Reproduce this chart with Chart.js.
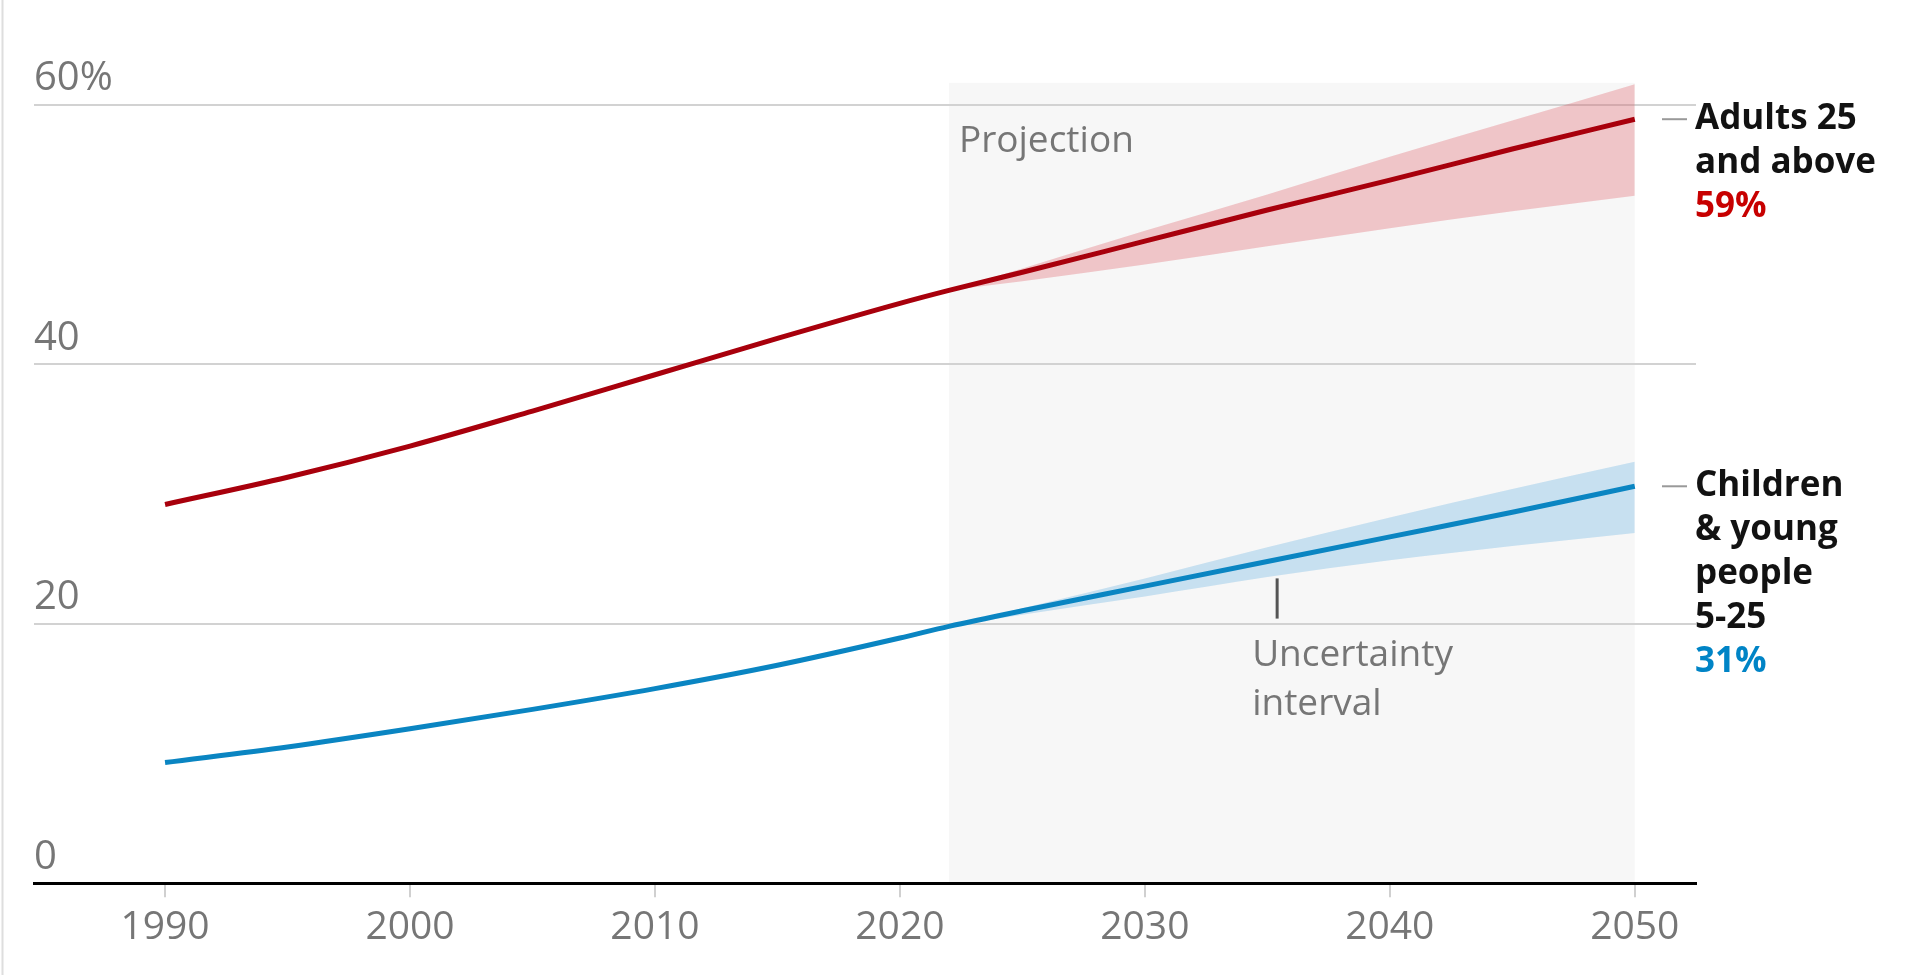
<!DOCTYPE html>
<html>
<head>
<meta charset="utf-8">
<script src="https://cdn.jsdelivr.net/npm/chart.js@4.4.1/dist/chart.umd.min.js"></script>
<style>
  html, body { margin: 0; padding: 0; background: #fff; }
  #wrap { position: relative; width: 1920px; height: 975px; }
</style>
</head>
<body>
<div id="wrap"><canvas id="popChart"></canvas></div>
<script>
// --- DATA ---
const years = [1990, 1995, 2000, 2005, 2010, 2015, 2020, 2022, 2025, 2030, 2035, 2040, 2045, 2050];
const adults = [29.2, 31.3, 33.7, 36.4, 39.2, 42.0, 44.7, 45.7, 47.1, 49.5, 51.9, 54.2, 56.6, 58.9];
const adultsLow = [null, null, null, null, null, null, null, 45.7, 46.4, 47.7, 49.1, 50.5, 51.8, 53.0];
const adultsHigh = [null, null, null, null, null, null, null, 45.7, 47.4, 50.3, 53.1, 56.0, 58.8, 61.6];
const children = [9.3, 10.5, 11.9, 13.4, 15.0, 16.8, 18.9, 19.8, 21.0, 22.9, 24.8, 26.7, 28.6, 30.6];
const childrenLow = [null, null, null, null, null, null, null, 19.8, 20.7, 22.1, 23.6, 24.9, 26.0, 27.0];
const childrenHigh = [null, null, null, null, null, null, null, 19.8, 21.2, 23.5, 25.9, 28.2, 30.4, 32.5];
const xTicks = [1990, 2000, 2010, 2020, 2030, 2040, 2050];
const yTicks = [0, 20, 40, 60];
const projectionStart = 2022;
const projectionEnd = 2050;
const adultsLabel = ['Adults 25', 'and above', '59%'];
const childrenLabel = ['Children', '& young', 'people', '5-25', '31%'];

const RED = '#a8000c';
const BLUE = '#0a85c2';
const GREY = '#767676';
const FONT = '"Open Sans", "Noto Sans", sans-serif';

function pts(arr) {
  return years.map((yr, i) => ({ x: yr, y: arr[i] }));
}

// --- PLUGIN: background shade, annotations and end labels ---
const decorations = {
  id: 'decorations',
  beforeDraw(chart) {
    const { ctx, scales: { x, y } } = chart;
    ctx.save();
    ctx.fillStyle = '#fff';
    ctx.fillRect(0, 0, chart.width, chart.height);
    // left border
    ctx.strokeStyle = '#dedede';
    ctx.lineWidth = 2;
    ctx.beginPath();
    ctx.moveTo(2.5, 0);
    ctx.lineTo(2.5, chart.height);
    ctx.stroke();
    // projection area
    const x0 = x.getPixelForValue(projectionStart);
    const x1 = x.getPixelForValue(projectionEnd);
    const yTop = y.getPixelForValue(61.7);
    const yBot = y.getPixelForValue(0);
    ctx.fillStyle = '#f7f7f7';
    ctx.fillRect(x0, yTop, x1 - x0, yBot - yTop);
    ctx.restore();
  },
  afterDraw(chart) {
    const { ctx, chartArea, scales: { x, y } } = chart;
    ctx.save();
    // "Projection"
    ctx.font = '37px ' + FONT;
    ctx.fillStyle = GREY;
    ctx.textBaseline = 'middle';
    ctx.textAlign = 'left';
    ctx.fillText('Projection', x.getPixelForValue(projectionStart) + 10, y.getPixelForValue(60) + 37);

    // uncertainty pointer
    const ux = x.getPixelForValue(2035.4);
    ctx.strokeStyle = '#555';
    ctx.lineWidth = 3;
    ctx.beginPath();
    ctx.moveTo(ux, y.getPixelForValue(23.5));
    ctx.lineTo(ux, y.getPixelForValue(20.4));
    ctx.stroke();
    ctx.textBaseline = 'alphabetic';
    const base = y.getPixelForValue(20);
    ctx.fillText('Uncertainty', ux - 25, base + 42);
    ctx.fillText('interval', ux - 25, base + 91);

    // end labels
    const drawLabel = (lines, value, color) => {
      const yy = y.getPixelForValue(value);
      const right = chartArea.right;
      ctx.strokeStyle = '#999';
      ctx.lineWidth = 2;
      ctx.beginPath();
      ctx.moveTo(right - 34, yy);
      ctx.lineTo(right - 9, yy);
      ctx.stroke();
      ctx.font = '700 35px ' + FONT;
      ctx.textBaseline = 'middle';
      lines.forEach((t, i) => {
        ctx.fillStyle = i === lines.length - 1 ? color : '#121212';
        ctx.fillText(t, right - 1, yy + i * 44);
      });
    };
    drawLabel(adultsLabel, adults[adults.length - 1], '#c70000');
    drawLabel(childrenLabel, children[children.length - 1], '#0084c6');
    ctx.restore();
  }
};

// --- CHART ---
const band = { borderWidth: 0, pointRadius: 0, order: 2, cubicInterpolationMode: 'monotone' };
const ctx = document.getElementById('popChart').getContext('2d');
new Chart(ctx, {
  type: 'line',
  data: {
    datasets: [
      { ...band, data: pts(adultsLow), fill: false },
      { ...band, data: pts(adultsHigh), fill: '-1', backgroundColor: 'rgba(220, 70, 80, 0.28)' },
      { ...band, data: pts(childrenLow), fill: false },
      { ...band, data: pts(childrenHigh), fill: '-1', backgroundColor: 'rgba(60, 160, 220, 0.26)' },
      { data: pts(adults), borderColor: RED, borderWidth: 5, pointRadius: 0, fill: false,
        order: 0, cubicInterpolationMode: 'monotone' },
      { data: pts(children), borderColor: BLUE, borderWidth: 5, pointRadius: 0, fill: false,
        order: 0, cubicInterpolationMode: 'monotone' }
    ]
  },
  options: {
    responsive: true,
    maintainAspectRatio: false,
    animation: false,
    devicePixelRatio: 1,
    layout: { padding: { left: 34, right: 224, top: 79, bottom: 17 } },
    plugins: { legend: { display: false }, tooltip: { enabled: false } },
    scales: {
      x: {
        type: 'linear',
        min: 1984.65,
        max: 2052.5,
        afterBuildTicks: (scale) => { scale.ticks = xTicks.map(v => ({ value: v })); },
        grid: { drawOnChartArea: false, drawTicks: true, tickLength: 14, color: '#d0d0d0', lineWidth: 2 },
        border: { display: true, color: '#000', width: 3 },
        ticks: {
          color: GREY,
          font: { family: FONT, size: 39 },
          padding: 7,
          maxRotation: 0,
          autoSkip: false,
          callback: (v) => String(v)
        }
      },
      y: {
        min: 0,
        max: 62,
        afterBuildTicks: (scale) => { scale.ticks = yTicks.map(v => ({ value: v })); },
        grid: {
          drawTicks: false,
          color: (c) => (c.tick && c.tick.value === 0 ? 'rgba(0,0,0,0)' : '#d2d2d2'),
          lineWidth: 2
        },
        border: { display: false },
        ticks: {
          mirror: true,
          padding: 0,
          labelOffset: -26,
          color: GREY,
          font: { family: FONT, size: 40 },
          callback: (v) => (v === 60 ? '60%' : String(v))
        }
      }
    }
  },
  plugins: [decorations]
});
</script>
</body>
</html>
